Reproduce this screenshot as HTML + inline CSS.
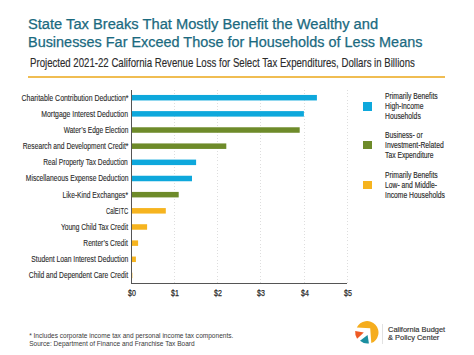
<!DOCTYPE html>
<html><head><meta charset="utf-8"><style>
html,body{margin:0;padding:0;background:#fff;}
body{width:474px;height:355px;position:relative;overflow:hidden;font-family:"Liberation Sans",sans-serif;}
div{position:absolute;white-space:nowrap;}
.t1,.t2{left:28.1px;color:#1b6a7f;-webkit-text-stroke:0.25px #1b6a7f;font-size:13.8px;line-height:13.8px;transform-origin:0 50%;}
.sub{left:29.5px;color:#2b2b2b;-webkit-text-stroke:0.15px #2b2b2b;font-size:13px;line-height:13px;transform-origin:0 50%;transform:scaleX(0.741);}
.rule{left:27.5px;top:76.3px;width:417.7px;height:2px;background:#f0bd52;}
.lab{right:346px;font-size:8.8px;line-height:8.8px;color:#2a2a2a;-webkit-text-stroke:0.12px #2a2a2a;transform-origin:100% 50%;}
.bar{height:5.5px;left:132px;}
.grid{top:89.5px;height:193.5px;width:1px;background:repeating-linear-gradient(to bottom,#dedede 0 1px,transparent 1px 3.2px);}
.axisv{left:130.8px;top:89.5px;width:1px;height:194.5px;background:#555;}
.axish{left:130.8px;top:283px;width:216.5px;height:1px;background:#555;}
.xl{top:289.4px;width:30px;text-align:center;font-size:8.8px;line-height:8.8px;color:#2a2a2a;-webkit-text-stroke:0.25px #2a2a2a;transform:scaleX(0.8);}
.sq{width:9px;height:8.5px;left:362.8px;}
.lg{left:385.2px;font-size:8.8px;line-height:9.9px;color:#2a2a2a;-webkit-text-stroke:0.15px #2a2a2a;transform-origin:0 0;transform:scaleX(0.77);}
.foot{left:29.2px;font-size:6.55px;line-height:8.5px;color:#3a3a3a;}
.logo{left:387.5px;font-size:7.1px;line-height:8.1px;color:#333;-webkit-text-stroke:0.15px #333;transform-origin:0 0;transform:scaleX(1.05);}
</style></head><body>
<div class="t1" style="top:18.2px;transform:scaleX(1.064)">State Tax Breaks That Mostly Benefit the Wealthy and</div>
<div class="t2" style="top:35.5px;transform:scaleX(1.046)">Businesses Far Exceed Those for Households of Less Means</div>
<div class="sub" style="top:55.6px">Projected 2021-22 California Revenue Loss for Select Tax Expenditures, Dollars in Billions</div>
<div class="rule"></div>
<div class="grid" style="left:174.00px"></div><div class="grid" style="left:217.20px"></div><div class="grid" style="left:260.40px"></div><div class="grid" style="left:303.60px"></div><div class="grid" style="left:346.80px"></div>
<div class="axisv"></div>
<div class="axish"></div>
<svg style="position:absolute;left:0;top:0" width="474" height="355"><rect x="132" y="94.95" width="184.90" height="5.5" fill="#0ea8dc"/><rect x="132" y="111.11" width="171.90" height="5.5" fill="#0ea8dc"/><rect x="132" y="127.27" width="167.70" height="5.5" fill="#6e8b2a"/><rect x="132" y="143.43" width="94.30" height="5.5" fill="#6e8b2a"/><rect x="132" y="159.59" width="64.10" height="5.5" fill="#0ea8dc"/><rect x="132" y="175.75" width="60.00" height="5.5" fill="#0ea8dc"/><rect x="132" y="191.91" width="46.70" height="5.5" fill="#6e8b2a"/><rect x="132" y="208.07" width="33.80" height="5.5" fill="#f6b41f"/><rect x="132" y="224.23" width="15.10" height="5.5" fill="#f6b41f"/><rect x="132" y="240.39" width="6.10" height="5.5" fill="#f6b41f"/><rect x="132" y="256.55" width="3.90" height="5.5" fill="#f6b41f"/><rect x="132" y="272.71" width="0.35" height="5.5" fill="#f6b41f"/></svg>
<div class="lab" style="top:93.65px;transform:scaleX(0.7893)">Charitable Contribution Deduction*</div><div class="lab" style="top:109.81px;transform:scaleX(0.7809)">Mortgage Interest Deduction</div><div class="lab" style="top:125.97px;transform:scaleX(0.7484)">Water&#8217;s Edge Election</div><div class="lab" style="top:142.13px;transform:scaleX(0.7636)">Research and Development Credit*</div><div class="lab" style="top:158.29px;transform:scaleX(0.7560)">Real Property Tax Deduction</div><div class="lab" style="top:174.45px;transform:scaleX(0.7636)">Miscellaneous Expense Deduction</div><div class="lab" style="top:190.61px;transform:scaleX(0.7605)">Like-Kind Exchanges*</div><div class="lab" style="top:206.77px;transform:scaleX(0.6683)">CalEITC</div><div class="lab" style="top:222.93px;transform:scaleX(0.7537)">Young Child Tax Credit</div><div class="lab" style="top:239.09px;transform:scaleX(0.7560)">Renter&#8217;s Credit</div><div class="lab" style="top:255.25px;transform:scaleX(0.7681)">Student Loan Interest Deduction</div><div class="lab" style="top:271.41px;transform:scaleX(0.7628)">Child and Dependent Care Credit</div>
<div class="xl" style="left:116.80px">$0</div><div class="xl" style="left:160.00px">$1</div><div class="xl" style="left:203.20px">$2</div><div class="xl" style="left:246.40px">$3</div><div class="xl" style="left:289.60px">$4</div><div class="xl" style="left:332.80px">$5</div>
<div class="sq" style="top:102.3px;background:#0ea8dc"></div>
<div class="sq" style="top:140.9px;background:#6e8b2a"></div>
<div class="sq" style="top:180.9px;background:#f6b41f"></div>
<div class="lg" style="top:92px">Primarily Benefits<br>High-Income<br>Households</div>
<div class="lg" style="top:131px">Business- or<br>Investment-Related<br>Tax Expenditure</div>
<div class="lg" style="top:171px">Primarily Benefits<br>Low- and Middle-<br>Income Households</div>
<div class="foot" style="top:331.7px">* Includes corporate income tax and personal income tax components.<br>Source: Department of Finance and Franchise Tax Board</div>
<svg style="position:absolute;left:352px;top:318px" width="30" height="30" viewBox="0 0 30 30">
<path d="M4.8 9.6 A11.4 11.4 0 1 1 19.3 25.1 L18.2 10.3 Z" fill="#f5ad1e"/>
<path d="M3.2 13.1 L11.8 14.4 L5.1 20.7 A11.4 11.4 0 0 1 3.2 13.1 Z" fill="#ee5a24"/>
<path d="M8 22.8 L15.6 16.9 L16.9 25.5 A11.4 11.4 0 0 1 8 22.8 Z" fill="#1b8fa0"/>
</svg>
<div style="left:382px;top:323.7px;width:1px;height:20px;background:#e2e2e2"></div>
<div class="logo" style="top:325.9px">California Budget<br>&amp; Policy Center</div>
</body></html>
